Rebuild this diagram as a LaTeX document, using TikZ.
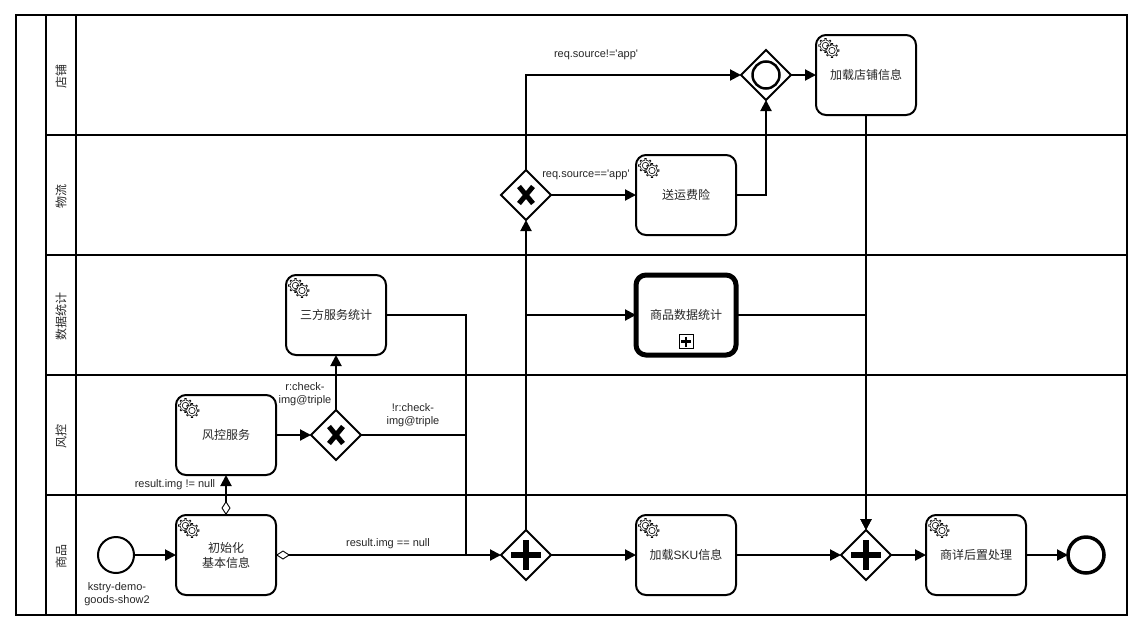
\documentclass[tikz,border=0pt]{standalone}
\usepackage{fontspec}
\newfontfamily\cjk{Noto Sans CJK SC}
\newfontfamily\latin{Liberation Sans}
\usetikzlibrary{shapes.geometric,arrows.meta,positioning}
\tikzset{
    pics/gears/.style={code={
        \foreach \cx/\cy in {9.5/10.5,16/15.5}{
            \draw[line width=.6pt,fill=white,shift={(\cx,\cy)}] (0:5.2)
                \foreach \a in {0,45,...,315}{ -- (\a-7:5.4) -- (\a-6:7) -- (\a+6:7) -- (\a+7:5.4) } -- cycle;
            \draw[line width=.6pt,shift={(\cx,\cy)}] (0,0) circle (3.2);
        }
    }},
    pics/xmark/.style={code={
        \draw[line width=5pt] (-7,-8.5) -- (7,8.5) (-7,8.5) -- (7,-8.5);
    }},
    pics/plusmark/.style={code={
        \draw[line width=6pt] (-15,0) -- (15,0) (0,-15) -- (0,15);
    }}
}
\begin{document}
\begin{tikzpicture}[x=1pt,y=-1pt,line width=2pt]
    \tikzstyle{task}=[draw,rectangle,rounded corners=10pt,fill=white,minimum width=100pt,minimum height=80pt,outer sep=0pt,inner sep=0pt,align=center,text=black!85,font={\cjk\fontsize{12}{15}\selectfont}]
    \tikzstyle{gateway}=[draw,diamond,fill=white,minimum width=50pt,minimum height=50pt,outer sep=0pt,inner sep=0pt]
    \tikzstyle{event}=[draw,circle,fill=white,minimum size=36pt,outer sep=0pt,inner sep=0pt]
    \tikzstyle{lbl}=[inner sep=0pt,align=center,text=black!85,font={\latin\fontsize{11}{13}\selectfont}]
    \tikzstyle{flow}=[-{Triangle[length=11pt,width=11pt]}]
    \tikzstyle{condflow}=[{Diamond[length=14pt,width=9pt,open,fill=white,line width=.9pt]}-{Triangle[length=11pt,width=11pt]}]
    \useasboundingbox (0,0) rectangle (1142,632);

    % Pool and lanes
    \draw (16,15) rectangle (1127,615);
    \draw (46,15) -- (46,615) (76,15) -- (76,615);
    \foreach \y in {135,255,375,495}
        \draw (46,\y) -- (1127,\y);
    \foreach \name/\y/\txt in {shoplane/76/店铺,shiplane/196/物流,statlane/316/数据统计,risklane/436/风控,goodslane/556/商品}
        \node (\name)[rotate=90,inner sep=0pt,text=black!85,font={\cjk\fontsize{12}{15}\selectfont}] at (61,\y) {\txt};

    % Events
    \node (start)[event] at (116,555) {};
    \node (finish)[event,line width=3.5pt] at (1086,555) {};

    % Tasks
    \node (init)[task] at (226,555) {初始化\\基本信息};
    \node (risk)[task] at (226,435) {风控服务};
    \node (third)[task] at (336,315) {三方服务统计};
    \node (stats)[task,line width=5pt] at (686,315) {商品数据统计};
    \node (ship)[task] at (686,195) {送运费险};
    \node (shop)[task] at (866,75) {加载店铺信息};
    \node (sku)[task] at (686,555) {加载{\latin SKU}信息};
    \node (post)[task] at (976,555) {商详后置处理};
    \foreach \t in {init,risk,third,ship,shop,sku,post}
        \pic at (\t.north west) {gears};

    % Collapsed marker
    \node (collapse)[draw,line width=1pt,minimum size=14pt,inner sep=0pt,outer sep=0pt] at (686,341.5) {};
    \draw[line width=2.5pt] (681,341.5) -- (691,341.5) (686,336.5) -- (686,346.5);

    % Gateways
    \node (gwrisk)[gateway] at (336,435) {};
    \node (gwall)[gateway] at (526,555) {};
    \node (gwsrc)[gateway] at (526,195) {};
    \node (gwshop)[gateway] at (766,75) {};
    \node (gwend)[gateway] at (866,555) {};
    \pic at (gwrisk) {xmark};
    \pic at (gwsrc) {xmark};
    \pic at (gwall) {plusmark};
    \pic at (gwend) {plusmark};
    \node (ring)[draw,circle,line width=2.5pt,minimum size=27pt,inner sep=0pt] at (gwshop) {};

    % Merge points
    \coordinate (merge) at (466,555);

    % Sequence flows
    \draw[flow] (start) -- (init);
    \draw[condflow] (init.north) -- (risk.south);
    \draw[condflow] (init.east) -- (gwall.west);
    \draw[flow] (risk) -- (gwrisk);
    \draw[flow] (gwrisk) -- (third);
    \draw (gwrisk.east) -| (merge);
    \draw (third.east) -| (merge);
    \draw[flow] (gwall) -- (gwsrc);
    \draw[flow] (gwall.north) |- (stats.west);
    \draw[flow] (gwsrc.north) |- (gwshop.west);
    \draw[flow] (gwsrc) -- (ship);
    \draw[flow] (ship.east) -| (gwshop.south);
    \draw[flow] (gwshop) -- (shop);
    \draw[flow] (shop) -- (gwend);
    \draw[flow] (stats.east) -| (gwend.north);
    \draw[flow] (gwall) -- (sku);
    \draw[flow] (sku) -- (gwend);
    \draw[flow] (gwend) -- (post);
    \draw[flow] (post) -- (finish);

    % Labels
    \node (startlbl)[lbl] at (117,594.5) {kstry-demo-\\goods-show2};
    \node (imgne)[lbl] at (175,485) {result.img != null};
    \node (imgeq)[lbl] at (388,544) {result.img == null};
    \node (chk)[lbl] at (305,394) {r:check-\\img@triple};
    \node (nchk)[lbl] at (413,415) {!r:check-\\img@triple};
    \node (srcne)[lbl] at (596,55) {req.source!='app'};
    \node (srceq)[lbl] at (586,175) {req.source=='app'};
\end{tikzpicture}
\end{document}
